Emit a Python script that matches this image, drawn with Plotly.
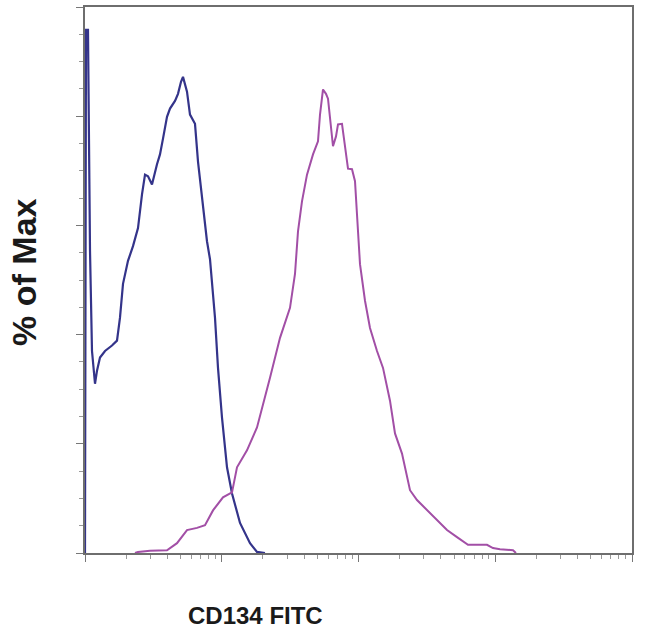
import plotly.graph_objects as go

# Isotype control histogram (blue): log10 of FITC intensity, % of max
iso_log10 = [1.000, 1.0073, 1.0219, 1.0366, 1.0512, 1.0731, 1.0878, 1.1097, 1.1463, 1.1974,
             1.2340, 1.2559, 1.2779, 1.3144, 1.3510, 1.3876, 1.4168, 1.4388, 1.4607, 1.4899,
             1.5265, 1.5484, 1.5704, 1.5996, 1.6216, 1.6581, 1.6801, 1.7020, 1.7166, 1.7313,
             1.7459, 1.7678, 1.8044, 1.8263, 1.8556, 1.8775, 1.8921, 1.9141, 1.9287, 1.9506,
             1.9726, 2.0018, 2.0384, 2.0750, 2.1335, 2.2066, 2.2578, 2.3163]
iso_pct = [0.0, 95.8, 95.8, 55.3, 37.0, 31.0, 33.4, 35.8, 37.0, 38.0,
           38.9, 43.1, 49.3, 53.5, 56.2, 59.5, 65.7, 69.3, 69.0, 67.5,
           71.2, 73.0, 75.9, 79.9, 81.4, 82.8, 84.1, 86.3, 87.2, 85.9,
           84.5, 80.3, 78.6, 71.7, 65.7, 60.2, 57.1, 53.8, 49.3, 43.1,
           33.9, 24.8, 15.7, 10.9, 5.5, 1.8, 0.2, 0.0]

# CD134 FITC stained histogram (magenta)
cd134_log10 = [1.3656, 1.3876, 1.4753, 1.5996, 1.6728, 1.7459, 1.8190, 1.8775, 1.9360, 2.0091,
               2.0750, 2.1115, 2.1846, 2.2578, 2.3528, 2.4260, 2.4991, 2.5356, 2.5576, 2.5868,
               2.6234, 2.6673, 2.7038, 2.7185, 2.7404, 2.7623, 2.7770, 2.8135, 2.8355, 2.8501,
               2.8793, 2.9013, 2.9232, 2.9525, 2.9744, 2.9890, 3.0110, 3.0475, 3.0841, 3.1353,
               3.1792, 3.2303, 3.2669, 3.3181, 3.3766, 3.4278, 3.5009, 3.5740, 3.6472, 3.7203,
               3.8007, 3.9397, 3.9835, 4.0347, 4.1298, 4.1517]
cd134_pct = [0.0, 0.2, 0.4, 0.5, 1.8, 4.2, 4.6, 5.1, 7.8, 10.2,
             11.1, 15.7, 18.8, 23.0, 32.1, 39.4, 44.9, 51.1, 58.9, 64.4,
             69.3, 73.0, 75.4, 80.3, 84.9, 84.1, 83.2, 74.5, 76.3, 78.5,
             78.6, 74.1, 70.4, 70.3, 68.1, 62.0, 52.9, 46.2, 41.2, 37.0,
             33.9, 27.9, 21.9, 18.2, 11.5, 9.7, 7.8, 6.0, 4.2, 2.9,
             1.5, 1.5, 0.9, 0.7, 0.5, 0.0]

x_title = "CD134 FITC"
y_title = "% of Max"

fig = go.Figure()
fig.add_trace(go.Scatter(x=[10 ** v for v in iso_log10], y=iso_pct, mode="lines",
                         line=dict(color="#34348a", width=2.2), showlegend=False))
fig.add_trace(go.Scatter(x=[10 ** v for v in cd134_log10], y=cd134_pct, mode="lines",
                         line=dict(color="#a24fa6", width=2), showlegend=False))

axis_common = dict(showgrid=False, zeroline=False, showline=True, mirror=True,
                   linecolor="#6e6e6e", linewidth=2, ticks="outside", tickcolor="#777777",
                   ticklen=7, tickwidth=1, showticklabels=False)

fig.update_xaxes(type="log", range=[1, 5], dtick=1,
                 minor=dict(ticks="outside", ticklen=4, tickcolor="#999999", showgrid=False),
                 **axis_common)
fig.update_yaxes(range=[0, 100], dtick=20,
                 minor=dict(ticks="outside", ticklen=4, dtick=5, tickcolor="#999999", showgrid=False),
                 **axis_common)

fig.add_annotation(text="<b>" + x_title + "</b>", xref="paper", yref="paper",
                   x=0.311, y=-0.115, showarrow=False,
                   font=dict(family="Liberation Sans, Arial, sans-serif", size=24, color="#1a1a1a"),
                   xanchor="center", yanchor="middle")
fig.add_annotation(text="<b>" + y_title + "</b>", xref="paper", yref="paper",
                   x=-0.1115, y=0.513, showarrow=False,
                   font=dict(family="Liberation Sans, Arial, sans-serif", size=34, color="#1a1a1a"),
                   textangle=-90, xanchor="center", yanchor="middle")

fig.update_layout(width=650, height=633, margin=dict(l=85, r=18, t=5, b=80),
                  paper_bgcolor="white", plot_bgcolor="white")

fig.write_html("out.html", config={"displayModeBar": False},
               post_script="document.body.style.margin='0';")
